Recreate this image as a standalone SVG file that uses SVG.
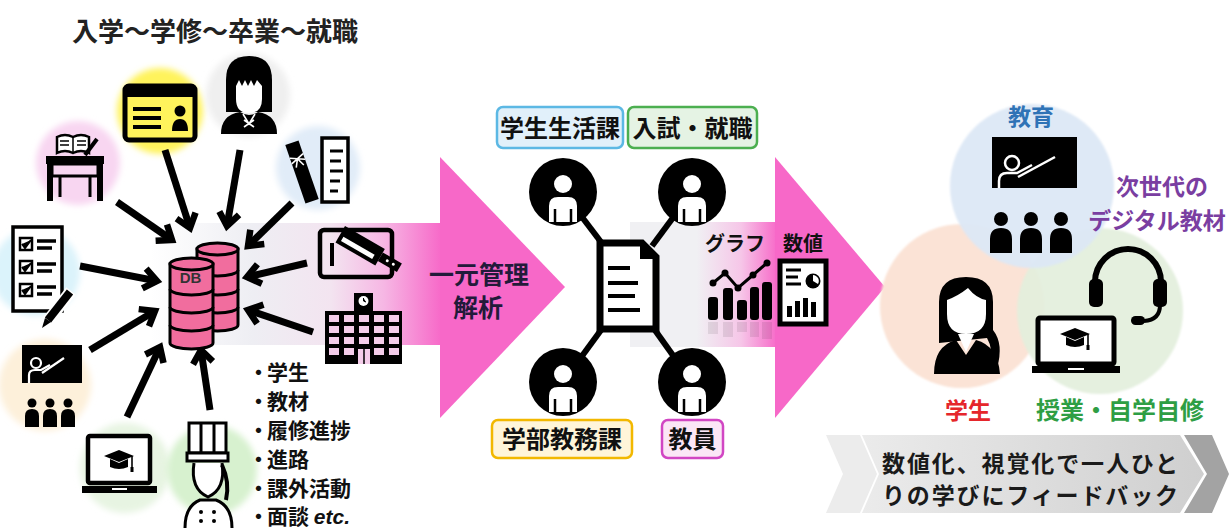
<svg xmlns="http://www.w3.org/2000/svg" width="1229" height="528" viewBox="0 0 1229 528">
<defs>
<style>
.jp{font-family:"Noto Sans CJK JP","Noto Sans CJK SC",sans-serif;font-weight:700}
.halo{filter:url(#soft)}
.feed{stroke:#000;stroke-width:7;fill:none;marker-end:url(#head)}
.ln{stroke:#000;fill:none}
.wl{stroke:#fff;fill:none}
.tag{stroke-width:2.5}
.link{stroke:#000;stroke-width:6}
</style>
<filter id="soft" x="-20%" y="-20%" width="140%" height="140%"><feGaussianBlur stdDeviation="3"/></filter>
<filter id="soft2" x="-10%" y="-10%" width="120%" height="120%"><feGaussianBlur stdDeviation="1.2"/></filter>
<marker id="head" markerUnits="userSpaceOnUse" markerWidth="26" markerHeight="26" viewBox="0 0 26 26" refX="19" refY="13" orient="auto"><path d="M6,3 L19,13 L6,23" fill="none" stroke="#000" stroke-width="6.5"/></marker>
<linearGradient id="band1" x1="150" y1="0" x2="442" y2="0" gradientUnits="userSpaceOnUse">
<stop offset="0" stop-color="#eeeef3" stop-opacity="0"/>
<stop offset="0.35" stop-color="#eeeef3"/>
<stop offset="0.62" stop-color="#f3e4f0"/>
<stop offset="0.8" stop-color="#f6b7e4"/>
<stop offset="1" stop-color="#f768c8"/>
</linearGradient>
<linearGradient id="band2" x1="630" y1="0" x2="778" y2="0" gradientUnits="userSpaceOnUse">
<stop offset="0" stop-color="#f0f0f3"/>
<stop offset="0.45" stop-color="#f0f0f3"/>
<stop offset="0.75" stop-color="#f6c6e8"/>
<stop offset="1" stop-color="#f768c8"/>
</linearGradient>
<linearGradient id="chev" x1="826" y1="0" x2="1205" y2="0" gradientUnits="userSpaceOnUse">
<stop offset="0" stop-color="#eeeeee"/>
<stop offset="1" stop-color="#cfcfcf"/>
</linearGradient>
<symbol id="member" viewBox="-35 -35 70 70" width="70" height="70">
<circle r="34" fill="#000"/>
<circle cy="-8" r="9" fill="#fff"/>
<path d="M-14,30 L-14,14 Q-14,5 -5,5 L5,5 Q14,5 14,14 L14,30 Z" fill="#fff"/>
<path d="M-8,17 V30 M8,17 V30" stroke="#000" stroke-width="2.5"/>
</symbol>
<symbol id="mortar" viewBox="-16 -10 32 24" width="32" height="24">
<path d="M-15,-3 L0,-9 L15,-3 L0,3 Z" fill="#000"/>
<path d="M-9,0 V8 Q0,12 9,8 V0 L0,4 Z" fill="#000"/>
<path d="M13,-3 V9" stroke="#000" stroke-width="1.6"/>
<rect x="11.5" y="8" width="3" height="5" fill="#000"/>
</symbol>
</defs>

<rect width="1229" height="528" fill="#fff"/>

<!-- flow bands and big arrows -->
<g id="flow">
<rect x="150" y="223" width="292" height="122" fill="url(#band1)"/>
<polygon points="440,157 565,287 440,418" fill="#f768c8"/>
<rect x="630" y="222" width="148" height="125" fill="url(#band2)"/>
<polygon points="775,157 885,287 775,418" fill="#f768c8"/>
<text class="jp" x="479" y="284" font-size="25" text-anchor="middle" fill="#221a3a">一元管理</text>
<text class="jp" x="478" y="317" font-size="25" text-anchor="middle" fill="#221a3a">解析</text>
</g>

<text class="jp" x="215" y="41" font-size="26" text-anchor="middle" fill="#222">入学～学修～卒業～就職</text>

<!-- sources feeding the database -->
<g id="desk">
<circle class="halo" cx="78" cy="163" r="42" fill="#f8d6f1"/>
<path d="M57,153 V137 Q65,133 73,137 Q81,133 89,137 V153 Q81,149 73,153 Q65,149 57,153 Z" fill="#fff" stroke="#000" stroke-width="2.5"/>
<path d="M73,137 V153 M60,141 H69 M60,145 H69 M77,141 H86 M77,145 H86" stroke="#000" stroke-width="1.5"/>
<path d="M85,155 L97,139" stroke="#000" stroke-width="4"/>
<rect x="46" y="156" width="58" height="8" fill="#000"/>
<rect x="52" y="164" width="46" height="12" fill="none" stroke="#000" stroke-width="3"/>
<rect x="47" y="164" width="6" height="37" fill="#000"/>
<rect x="97" y="164" width="6" height="37" fill="#000"/>
<path d="M60,176 V197 M90,176 V197" stroke="#000" stroke-width="3"/>
</g>

<g id="idcard">
<circle class="halo" cx="160" cy="111" r="43" fill="#fff35c"/>
<rect x="125" y="86" width="70" height="54" rx="4" fill="#fff35c" stroke="#000" stroke-width="5"/>
<rect x="125" y="86" width="70" height="11" fill="#000"/>
<path d="M133,109 H161 M133,118 H161 M133,127 H161" stroke="#000" stroke-width="4"/>
<circle cx="180" cy="111" r="5.5" fill="#000"/>
<path d="M172,131 Q172,119 180,119 Q188,119 188,131 Z" fill="#000"/>
</g>

<g id="student">
<circle class="halo" cx="248" cy="95" r="42" fill="#efefef"/>
<path d="M226,112 V80 Q226,56 249,56 Q272,56 272,80 V112 Z" fill="#000"/>
<path d="M236,86 L239,80 L242,86 L245,80 L248,86 L251,80 L254,86 L257,80 L262,86 V99 Q262,113 249,113 Q236,113 236,99 Z" fill="#fff"/>
<path d="M221,134 Q221,115 240,112 Q249,118 258,112 Q277,115 277,134 Z" fill="#000"/>
<path d="M243,114 L249,124 L255,114 M244,120 L254,127 M254,120 L244,127" stroke="#fff" stroke-width="1.6" fill="none"/>
</g>

<g id="diploma">
<circle class="halo" cx="318" cy="168" r="42" fill="#e1ecf8"/>
<rect x="322" y="138" width="26" height="64" fill="#fff" stroke="#000" stroke-width="3.5"/>
<path d="M330,151 H343 M330,161 H341 M330,171 H343 M330,181 H340 M330,191 H338" stroke="#000" stroke-width="3"/>
<g transform="translate(302,172) rotate(-19)">
<rect x="-7" y="-31" width="14" height="62" fill="#000"/>
<path d="M-7,-17 L7,-11 M-7,-11 L7,-17 M0,-14 L-4,-6 M0,-14 L4,-6" stroke="#fff" stroke-width="1.6"/>
</g>
</g>

<g id="checklist">
<circle class="halo" cx="36" cy="272" r="44" fill="#dbf3fb"/>
<rect x="13" y="227" width="49" height="84" fill="#fff" stroke="#000" stroke-width="3.5"/>
<rect x="20" y="238" width="12" height="12" fill="none" stroke="#000" stroke-width="2.5"/>
<rect x="20" y="261" width="12" height="12" fill="none" stroke="#000" stroke-width="2.5"/>
<rect x="20" y="284" width="12" height="12" fill="none" stroke="#000" stroke-width="2.5"/>
<path d="M22,244 L25,248 L31,240 M22,267 L25,271 L31,263 M22,290 L25,294 L31,286" stroke="#000" stroke-width="2"/>
<path d="M37,241 H56 M37,248 H52 M37,264 H56 M37,271 H52 M37,287 H56 M37,294 H52" stroke="#000" stroke-width="3.5"/>
<path d="M48,321 L71,291" stroke="#fff" stroke-width="12"/>
<path d="M48,320 L70,292" stroke="#000" stroke-width="8"/>
<path d="M42,328 L45,318 L51,322 Z" fill="#000"/>
</g>

<g id="lecture">
<circle class="halo" cx="45" cy="385" r="46" fill="#fdf0da"/>
<rect x="22" y="345" width="60" height="38" fill="#000"/>
<circle cx="36" cy="363" r="5" class="wl" stroke-width="2.2"/>
<path d="M29,383 V375 Q29,370 35,370 H41 L50,365" class="wl" stroke-width="2.2"/>
<path d="M42,373 L64,358" class="wl" stroke-width="2.2"/>
<circle cx="32" cy="403" r="4.5" fill="#000"/>
<circle cx="50" cy="403" r="4.5" fill="#000"/>
<circle cx="68" cy="403" r="4.5" fill="#000"/>
<path d="M25,427 V416 Q25,409 32,409 Q39,409 39,416 V427 Z M43,427 V416 Q43,409 50,409 Q57,409 57,416 V427 Z M61,427 V416 Q61,409 68,409 Q75,409 75,416 V427 Z" fill="#000"/>
</g>

<g id="elearning">
<circle class="halo" cx="125" cy="468" r="45" fill="#e7f4e2"/>
<rect x="88" y="436" width="62" height="47" rx="2" fill="#fff" stroke="#000" stroke-width="4.5"/>
<rect x="82" y="486" width="75" height="7" fill="#000"/>
<rect x="112" y="488" width="15" height="2" fill="#fff"/>
<use href="#mortar" x="103" y="449"/>
</g>

<g id="chef">
<circle class="halo" cx="212" cy="470" r="45" fill="#d7f1cf"/>
<rect x="189" y="423" width="37" height="30" fill="#fff" stroke="#000" stroke-width="3"/>
<path d="M201,424 V452 M214,424 V452" stroke="#000" stroke-width="3"/>
<rect x="187" y="453" width="41" height="8" fill="#fff" stroke="#000" stroke-width="3"/>
<path d="M194,463 Q190,489 208,497 Q226,489 222,463" fill="#fff" stroke="#000" stroke-width="3"/>
<path d="M222,465 Q230,482 226,500" stroke="#000" stroke-width="4" fill="none"/>
<path d="M185,528 Q185,506 200,500 H216 Q232,506 232,528" fill="#fff" stroke="#000" stroke-width="3"/>
<circle cx="201" cy="512" r="2" fill="#000"/>
<circle cx="201" cy="521" r="2" fill="#000"/>
<circle cx="214" cy="512" r="2" fill="#000"/>
<circle cx="214" cy="521" r="2" fill="#000"/>
</g>

<g id="knife-tablet">
<rect x="320" y="230" width="72" height="47" rx="4" fill="none" stroke="#000" stroke-width="4.5"/>
<path d="M332,243 V266" stroke="#000" stroke-width="4"/>
<g transform="translate(345,226) rotate(30)">
<rect x="0" y="0" width="46" height="19" fill="#000"/>
<rect x="4" y="10" width="36" height="5" fill="#fff"/>
<rect x="46" y="4" width="22" height="10" fill="#000"/>
<circle cx="54" cy="9" r="1.5" fill="#fff"/>
<circle cx="61" cy="9" r="1.5" fill="#fff"/>
</g>
</g>

<g id="campus">
<rect x="354" y="293" width="19" height="20" fill="#000"/>
<circle cx="363.5" cy="301" r="5" fill="#fff"/>
<path d="M363.5,298 V301 L366,302" stroke="#000" stroke-width="1"/>
<rect x="325" y="311" width="77" height="53" fill="#000"/>
<g fill="#f4cdea">
<rect x="329" y="315" width="10" height="7"/><rect x="344" y="315" width="10" height="7"/><rect x="359" y="315" width="10" height="7"/><rect x="374" y="315" width="10" height="7"/><rect x="389" y="315" width="10" height="7"/>
<rect x="329" y="326" width="10" height="7"/><rect x="344" y="326" width="10" height="7"/><rect x="359" y="326" width="10" height="7"/><rect x="374" y="326" width="10" height="7"/><rect x="389" y="326" width="10" height="7"/>
<rect x="329" y="337" width="10" height="7"/><rect x="344" y="337" width="10" height="7"/><rect x="359" y="337" width="10" height="7"/><rect x="374" y="337" width="10" height="7"/><rect x="389" y="337" width="10" height="7"/>
<rect x="329" y="348" width="10" height="7"/><rect x="344" y="348" width="10" height="7"/><rect x="374" y="348" width="10" height="7"/><rect x="389" y="348" width="10" height="7"/>
<rect x="358" y="349" width="12" height="15"/>
</g>
<path d="M364,349 V364" stroke="#000" stroke-width="1.5"/>
</g>

<!-- arrows into the database -->
<g id="feeds">
<line class="feed" x1="117" y1="202" x2="172" y2="240"/>
<line class="feed" x1="165" y1="150" x2="190" y2="228"/>
<line class="feed" x1="240" y1="150" x2="227" y2="226"/>
<line class="feed" x1="292" y1="203" x2="248" y2="246"/>
<line class="feed" x1="80" y1="266" x2="157" y2="281"/>
<line class="feed" x1="90" y1="350" x2="155" y2="311"/>
<line class="feed" x1="127" y1="417" x2="160" y2="347"/>
<line class="feed" x1="210" y1="410" x2="201" y2="350"/>
<line class="feed" x1="307" y1="263" x2="247" y2="277"/>
<line class="feed" x1="313" y1="332" x2="248" y2="310"/>
</g>

<g id="database">
<path d="M197,249 V325 A20.5,6 0 0 0 238,325 V249 Z" fill="#f16d9e" stroke="#000" stroke-width="3"/>
<ellipse cx="217.5" cy="249" rx="20.5" ry="6" fill="#f16d9e" stroke="#000" stroke-width="3"/>
<path d="M197,270 A20.5,6 0 0 0 238,270 M197,289 A20.5,6 0 0 0 238,289 M197,307 A20.5,6 0 0 0 238,307" fill="none" stroke="#000" stroke-width="3"/>
<path d="M170,264 V343 A21.5,6 0 0 0 213,343 V264 Z" fill="#f16d9e" stroke="#000" stroke-width="3"/>
<ellipse cx="191.5" cy="264" rx="21.5" ry="6" fill="#f16d9e" stroke="#000" stroke-width="3"/>
<path d="M170,289 A21.5,6 0 0 0 213,289 M170,307 A21.5,6 0 0 0 213,307 M170,325 A21.5,6 0 0 0 213,325" fill="none" stroke="#000" stroke-width="3"/>
<text x="190.5" y="283" font-family="Liberation Sans, sans-serif" font-weight="700" font-size="15" text-anchor="middle" fill="#333">DB</text>
</g>

<g id="records" class="jp" font-size="21" fill="#111">
<text y="380"><tspan x="248">・</tspan><tspan x="267">学生</tspan></text>
<text y="409"><tspan x="248">・</tspan><tspan x="267">教材</tspan></text>
<text y="438"><tspan x="248">・</tspan><tspan x="267">履修進捗</tspan></text>
<text y="467"><tspan x="248">・</tspan><tspan x="267">進路</tspan></text>
<text y="496"><tspan x="248">・</tspan><tspan x="267">課外活動</tspan></text>
<text y="524"><tspan x="248">・</tspan><tspan x="267">面談 </tspan><tspan font-family="Liberation Sans, sans-serif" font-style="italic">etc.</tspan></text>
</g>

<!-- shared record and its four offices -->
<g id="links">
<line class="link" x1="563" y1="192" x2="604" y2="246"/>
<line class="link" x1="692" y1="192" x2="652" y2="246"/>
<line class="link" x1="563" y1="382" x2="604" y2="326"/>
<line class="link" x1="692" y1="382" x2="652" y2="326"/>
</g>
<g id="office-student-life"><use href="#member" x="528" y="157"/></g>
<g id="office-admission"><use href="#member" x="657" y="157"/></g>
<g id="office-faculty-affairs"><use href="#member" x="528" y="347"/></g>
<g id="office-teachers"><use href="#member" x="657" y="347"/></g>
<g id="record">
<path d="M600,243 H642 L656,257 V329 H600 Z" fill="#fff" stroke="#000" stroke-width="7" stroke-linejoin="miter"/>
<path d="M640,242 V259 H657 Z" fill="#000"/>
<path d="M608,268 H630 M608,283 H638 M608,296 H635 M608,310 H640" stroke="#000" stroke-width="4"/>
</g>

<g id="tag-student-life">
<rect class="tag" x="497" y="107" width="126" height="41" rx="6" fill="#e1f0fa" stroke="#5cb8e4"/>
<text class="jp" x="560" y="137" font-size="24" text-anchor="middle" fill="#111">学生生活課</text>
</g>
<g id="tag-admission">
<rect class="tag" x="628" y="107" width="129" height="41" rx="6" fill="#e5f3e4" stroke="#4caf50"/>
<text class="jp" x="692.5" y="137" font-size="24" text-anchor="middle" fill="#111">入試・就職</text>
</g>
<g id="tag-faculty-affairs">
<rect class="tag" x="492" y="420" width="140" height="38" rx="6" fill="#fff5d9" stroke="#f2b800"/>
<text class="jp" x="562" y="448" font-size="24" text-anchor="middle" fill="#111">学部教務課</text>
</g>
<g id="tag-teachers">
<rect class="tag" x="662" y="420" width="61" height="38" rx="6" fill="#fbe6f6" stroke="#d146c3"/>
<text class="jp" x="692.5" y="448" font-size="24" text-anchor="middle" fill="#111">教員</text>
</g>

<!-- analysis outputs -->
<g id="graph">
<text class="jp" x="705" y="251" font-size="20" fill="#111">グラフ</text>
<g fill="#000">
<rect x="708" y="297" width="10" height="23" rx="3"/>
<rect x="723" y="288" width="10" height="32" rx="3"/>
<rect x="737" y="300" width="10" height="20" rx="3"/>
<rect x="750" y="287" width="9" height="33" rx="3"/>
<rect x="762" y="282" width="10" height="38" rx="3"/>
</g>
<path d="M713,283 L725,273 L738,288 L753,275 L767,263" stroke="#000" stroke-width="3" fill="none"/>
<g fill="#000"><circle cx="713" cy="283" r="3.5"/><circle cx="725" cy="273" r="3.5"/><circle cx="738" cy="288" r="3.5"/><circle cx="753" cy="275" r="3.5"/><circle cx="767" cy="263" r="3.5"/></g>
<g fill="#000" opacity="0.08">
<rect x="708" y="322" width="10" height="12"/><rect x="723" y="322" width="10" height="15"/><rect x="737" y="322" width="10" height="10"/><rect x="750" y="322" width="9" height="15"/><rect x="762" y="322" width="10" height="17"/>
</g>
</g>
<g id="figures">
<text class="jp" x="783" y="251" font-size="20" fill="#111">数値</text>
<rect x="780" y="261" width="46" height="63" fill="#fff" stroke="#000" stroke-width="5"/>
<path d="M786,270 H801 M786,277 H798 M786,284 H801" stroke="#000" stroke-width="3"/>
<circle cx="813" cy="281" r="7.5" fill="#000"/>
<path d="M813,281 V275 A6,6 0 0 1 818,284 Z" fill="#fff"/>
<g fill="#000"><rect x="787" y="306" width="5" height="11"/><rect x="795" y="301" width="5" height="16"/><rect x="803" y="298" width="5" height="19"/><rect x="811" y="302" width="5" height="15"/></g>
</g>

<!-- learner, teaching, study -->
<g id="learner">
<circle cx="962" cy="306" r="82" fill="#fbe3d6" filter="url(#soft2)"/>
</g>
<g id="study">
<circle cx="1100" cy="311" r="83" fill="#e3efdc" fill-opacity="0.92" filter="url(#soft2)"/>
</g>
<g id="teaching">
<circle cx="1032" cy="186" r="82" fill="#dce8f5" fill-opacity="0.95" filter="url(#soft2)"/>
<text class="jp" x="1031" y="125" font-size="23" text-anchor="middle" fill="#2f73b6">教育</text>
<rect x="992" y="137" width="85" height="51" fill="#000"/>
<circle cx="1012" cy="163" r="7" class="wl" stroke-width="2.5"/>
<path d="M999,188 V181 Q999,173 1007,173 H1017 L1032,165" class="wl" stroke-width="2.5"/>
<path d="M1018,177 L1055,157" class="wl" stroke-width="2.5"/>
<circle cx="1001" cy="219" r="7" fill="#000"/>
<circle cx="1031" cy="219" r="7" fill="#000"/>
<circle cx="1061" cy="219" r="7" fill="#000"/>
<path d="M990,253 V239 Q990,228 1001,228 Q1012,228 1012,239 V253 Z M1020,253 V239 Q1020,228 1031,228 Q1042,228 1042,239 V253 Z M1050,253 V239 Q1050,228 1061,228 Q1072,228 1072,239 V253 Z" fill="#000"/>
</g>
<g id="learner-figure">
<path d="M939,343 V302 Q939,277 966,277 Q993,277 993,302 V330 Q1004,344 997,368 L990,366 Q994,350 987,338 Z" fill="#000"/>
<path d="M947,300 Q958,296 968,288 Q976,298 986,300 V314 Q986,334 966,334 Q947,334 947,314 Z" fill="#fff"/>
<path d="M934,374 Q934,346 956,340 L966,355 L976,340 Q998,346 1000,374 Z" fill="#000"/>
<path d="M958,334 H974 L966,352 Z" fill="#fff"/>
<text class="jp" x="968" y="419" font-size="23" text-anchor="middle" fill="#e5262b">学生</text>
</g>
<g id="study-figure">
<path d="M1095,292 V282 A33,33 0 0 1 1161,282 V292" fill="none" stroke="#000" stroke-width="6"/>
<rect x="1089" y="279" width="14" height="28" rx="5" fill="#000"/>
<rect x="1153" y="279" width="14" height="28" rx="5" fill="#000"/>
<path d="M1160,305 Q1160,320 1144,321" fill="none" stroke="#000" stroke-width="4"/>
<rect x="1131" y="316" width="14" height="9" rx="4.5" fill="#000"/>
<rect x="1038" y="318" width="76" height="46" rx="2" fill="#fff" stroke="#000" stroke-width="5"/>
<rect x="1032" y="366" width="88" height="7" fill="#000"/>
<rect x="1068" y="368" width="16" height="2" fill="#fff"/>
<use href="#mortar" x="1059" y="327"/>
<text class="jp" x="1120" y="419" font-size="24" text-anchor="middle" fill="#2e9e44">授業・自学自修</text>
</g>
<g id="next-gen" class="jp" font-size="23" fill="#7a3ea1" text-anchor="middle">
<text x="1162" y="195">次世代の</text>
<text x="1157" y="229">デジタル教材</text>
</g>

<!-- feedback banner -->
<g id="feedback">
<polygon points="826,435 860,435 877,474 860,513 826,513 843,474" fill="#ececec"/>
<polygon points="862,435 1180,435 1204,474 1180,513 862,513 879,474" fill="url(#chev)"/>
<polygon points="1184,435 1212,435 1229,474 1212,513 1184,513 1207,474" fill="#a3a3a3"/>
<text class="jp" font-size="23" fill="#1a1a1a"><tspan x="882" y="472" textLength="296" lengthAdjust="spacing">数値化、視覚化で一人ひと</tspan><tspan x="882" y="504" textLength="296" lengthAdjust="spacing">りの学びにフィードバック</tspan></text>
</g>
</svg>
